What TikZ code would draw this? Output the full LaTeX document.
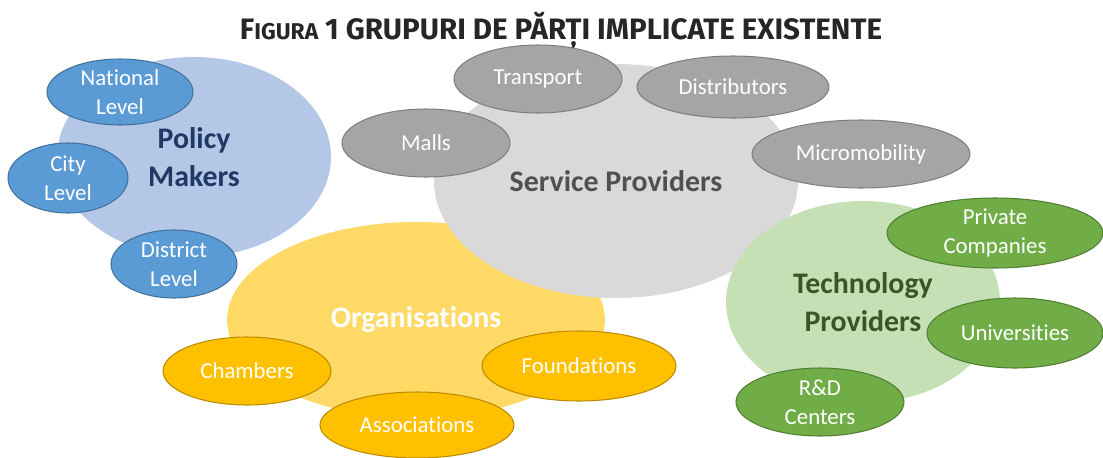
\documentclass[tikz,border=0pt]{standalone}
\usepackage{fontspec}
\usepackage{xcolor}
\setmainfont{Carlito}[Ligatures=NoCommon]
\newfontfamily\titlefont{Fira Sans}
\usetikzlibrary{shapes.geometric}

\definecolor{policylight}{HTML}{B4C7E7}
\definecolor{policymid}{HTML}{5B9BD5}
\definecolor{policyline}{HTML}{41719C}
\definecolor{policytext}{HTML}{1F3864}
\definecolor{servicelight}{HTML}{D9D9D9}
\definecolor{servicemid}{HTML}{A5A5A5}
\definecolor{serviceline}{HTML}{7F7F7F}
\definecolor{servicetext}{HTML}{505050}
\definecolor{orglight}{HTML}{FFD966}
\definecolor{orgmid}{HTML}{FFC000}
\definecolor{orgline}{HTML}{BC8C00}
\definecolor{techlight}{HTML}{C5E0B4}
\definecolor{techmid}{HTML}{70AD47}
\definecolor{techline}{HTML}{507E32}
\definecolor{techtext}{HTML}{385723}
\definecolor{titletext}{HTML}{262626}

\begin{document}
\begin{tikzpicture}[x=0.02cm, y=-0.02cm,
    group/.style = {ellipse, inner sep=0pt, align=center, font=\fontsize{17}{22}\selectfont\bfseries},
    member/.style = {ellipse, draw, line width=0.6pt, inner sep=0pt, align=center, text=white, font=\fontsize{13}{16.5}\selectfont},
    policy/.style = {member, fill=policymid, draw=policyline},
    service/.style = {member, fill=servicemid, draw=serviceline},
    org/.style = {member, fill=orgmid, draw=orgline},
    tech/.style = {member, fill=techmid, draw=techline}]
    \useasboundingbox (0,0) rectangle (1103,457);

    \node[font=\titlefont\bfseries, text=titletext] (title) at (561,31)
        {\fontsize{16.8}{20}\selectfont F{\fontsize{13}{15}\selectfont IGURA} 1 GRUPURI DE PĂRȚI IMPLICATE EXISTENTE};

    % the four groups
    \node[group, fill=policylight, text=policytext, minimum width=5.48cm, minimum height=4cm] (PM) at (194,157) {Policy\\Makers};
    \node[group, fill=orglight, text=white, minimum width=7.56cm, minimum height=3.92cm] (OR) at (416,320) {Organisations};
    \node[group, fill=servicelight, text=servicetext, minimum width=7.28cm, minimum height=4.68cm] (SP) at (616,181) {Service Providers};
    \node[group, fill=techlight, text=techtext, minimum width=5.48cm, minimum height=4.04cm] (TP) at (863,302) {Technology\\Providers};

    % policy makers
    \node[policy, minimum width=2.92cm, minimum height=1.32cm] (national) at (120,92) {National\\Level};
    \node[policy, minimum width=2.4cm, minimum height=1.4cm] (city) at (68,178) {City\\Level};
    \node[policy, minimum width=2.52cm, minimum height=1.36cm] (district) at (174,264) {District\\Level};

    % service providers
    \node[service, minimum width=3.36cm, minimum height=1.36cm] (transport) at (538,79) {Transport};
    \node[service, minimum width=3.84cm, minimum height=1.24cm] (distributors) at (733,87) {Distributors};
    \node[service, minimum width=3.36cm, minimum height=1.36cm] (malls) at (426,143) {Malls};
    \node[service, minimum width=4.36cm, minimum height=1.36cm] (micro) at (861,154) {Micromobility};

    % organisations
    \node[org, minimum width=3.36cm, minimum height=1.36cm] (chambers) at (247,371) {Chambers};
    \node[org, minimum width=3.88cm, minimum height=1.4cm] (foundations) at (579,366) {Foundations};
    \node[org, minimum width=3.88cm, minimum height=1.32cm] (associations) at (417,425) {Associations};

    % technology providers
    \node[tech, minimum width=4.32cm, minimum height=1.4cm] (companies) at (995,233) {Private\\Companies};
    \node[tech, minimum width=3.52cm, minimum height=1.4cm] (universities) at (1015,333) {Universities};
    \node[tech, minimum width=3.36cm, minimum height=1.36cm] (rd) at (820,402) {R\&D\\Centers};
\end{tikzpicture}
\end{document}
